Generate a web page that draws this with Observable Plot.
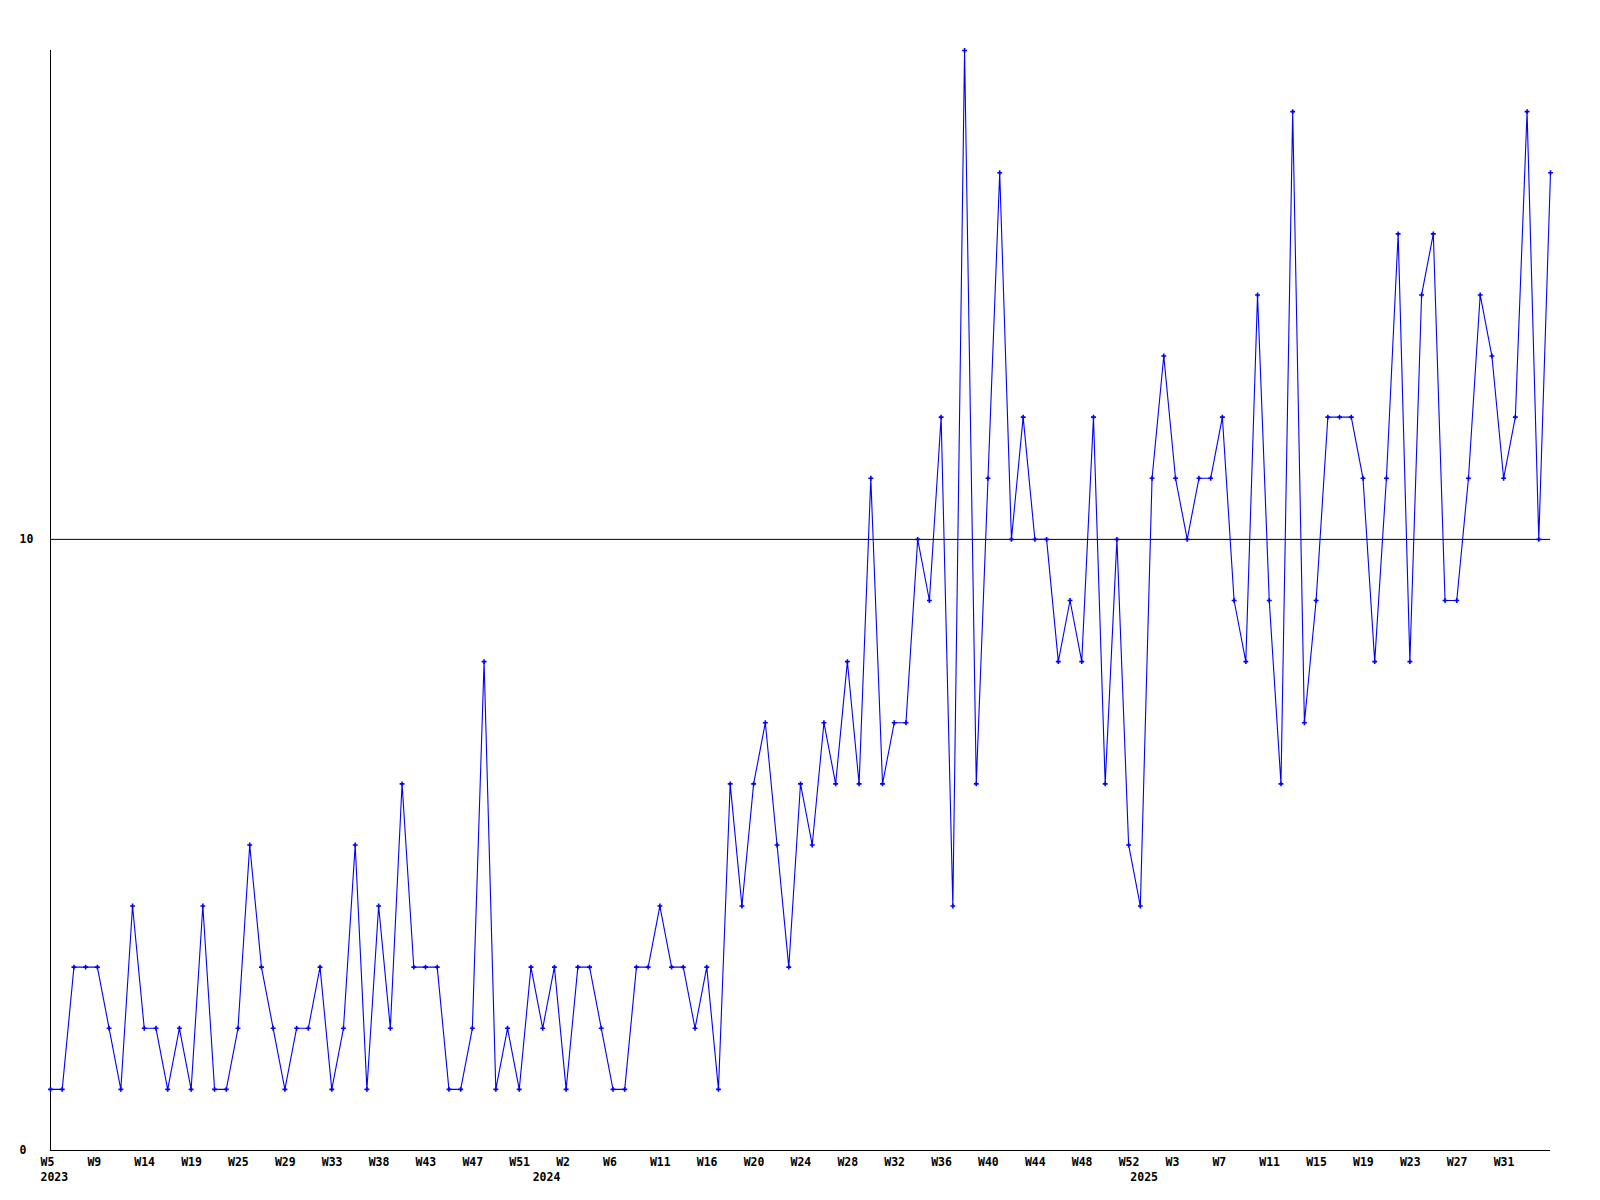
<!DOCTYPE html>
<html><head><meta charset="utf-8">
<script src="https://cdn.jsdelivr.net/npm/d3@7"></script>
<script src="https://cdn.jsdelivr.net/npm/@observablehq/plot@0.6"></script>
<style>body{margin:0;background:#fff;} svg{display:block}</style>
</head><body><div id="chart"></div>
<script>
// weekly values, one per point (129 points)
const values = [
  1,1,3,3,3,2,1,4,2,2, 1,2,1,4,1,1,2,5,3,2,
  1,2,2,3,1,2,5,1,4,2, 6,3,3,3,1,1,2,8,1,2,
  1,3,2,3,1,3,3,2,1,1, 3,3,4,3,3,2,3,1,6,4,
  6,7,5,3,6,5,7,6,8,6, 11,6,7,7,10,9,12,4,18,6,
  11,16,10,12,10,10,8,9,8,12, 6,10,5,4,11,13,11,10,11,11,
  12,9,8,14,9,6,17,7,9,12, 12,12,11,8,11,15,8,14,15,9,
  9,11,14,13,11,12,17,10,16
];
// tick labels, one every 4 points
const weekLabels = ["W5","W9","W14","W19","W25","W29","W33","W38","W43","W47","W51",
  "W2","W6","W11","W16","W20","W24","W28","W32","W36","W40","W44","W48","W52",
  "W3","W7","W11","W15","W19","W23","W27","W31"];
const tickStep = 4;
const yearLabels = ["2023","2024","2025"];
const yearStarts = [0, 42, 93];
const yTicks = [0, 10];
const refLine = 10;
const yMax = 18;

const data = values.map((v, i) => ({i, v}));
const tickIdx = weekLabels.map((_, k) => k * tickStep);
const blue = "#0000ff";

const chart = Plot.plot({
  width: 1600,
  height: 1200,
  marginLeft: 50, marginRight: 50, marginTop: 50, marginBottom: 50,
  x: {domain: [0, values.length - 1], axis: null},
  y: {domain: [0, yMax], axis: null},
  style: {fontFamily: "'DejaVu Sans Mono', monospace", fontWeight: "bold", fontSize: "11.5px", background: "#fff", color: "#000"},
  marks: [
    Plot.ruleY([refLine], {stroke: "#000", strokeWidth: 1}),
    Plot.ruleY([0], {stroke: "#000", strokeWidth: 1}),
    Plot.ruleX([0], {stroke: "#000", strokeWidth: 1}),
    Plot.line(data, {x: "i", y: "v", stroke: blue, strokeWidth: 1.1}),
    Plot.dot(data, {x: "i", y: "v", symbol: "plus", r: 1.7, stroke: blue, strokeWidth: 1.6}),
    Plot.axisY({ticks: yTicks, tickSize: 0, tickPadding: 31, textAnchor: "start", label: null, tickFormat: d => String(d)}),
    Plot.axisX({ticks: tickIdx, tickSize: 0, tickPadding: 7, textAnchor: "start", dx: -10, label: null,
      tickFormat: i => weekLabels[i / tickStep]}),
    Plot.axisX({ticks: yearStarts, tickSize: 0, tickPadding: 22, textAnchor: "start", dx: -10, label: null,
      tickFormat: i => yearLabels[yearStarts.indexOf(i)]})
  ]
});
document.getElementById("chart").append(chart);
</script>
</body></html>
